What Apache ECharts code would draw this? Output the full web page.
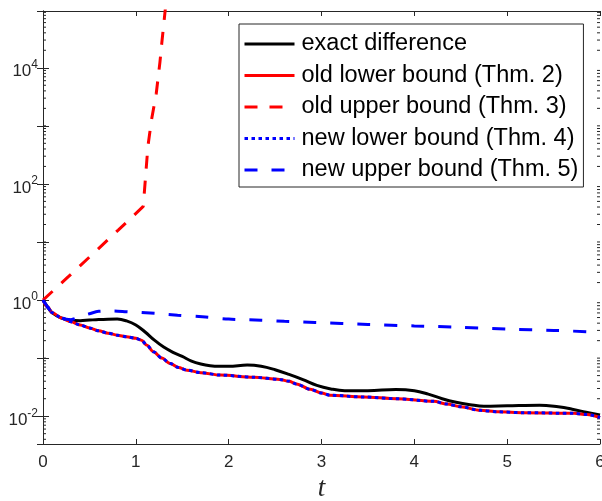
<!DOCTYPE html>
<html><head><meta charset="utf-8">
<script src="https://cdn.jsdelivr.net/npm/echarts@6/dist/echarts.min.js"></script>
<style>html,body{margin:0;padding:0;background:#fff}#c{width:602px;height:501px}</style>
</head><body><div id="c"></div>
<script>
// ---- data ----
const names = ['exact difference','old lower bound (Thm. 2)','old upper bound (Thm. 3)','new lower bound (Thm. 4)','new upper bound (Thm. 5)'];

const tExact = [0,0.05,0.1,0.2,0.3,0.4,0.5,0.6,0.7,0.8,0.9,1.0,1.1,1.2,1.3,1.4,1.5,1.6,1.7,1.8,1.9,2.0,2.2,2.35,2.5,2.65,2.8,2.95,3.1,3.25,3.5,3.8,4.0,4.15,4.3,4.45,4.6,4.75,5.0,5.35,5.55,5.7,5.85,6.0];
const vExact = [1,0.759,0.603,0.490,0.447,0.442,0.452,0.462,0.468,0.470,0.437,0.372,0.282,0.204,0.155,0.126,0.107,0.089,0.0794,0.0741,0.0724,0.0724,0.0759,0.0724,0.0631,0.0525,0.0427,0.0339,0.0295,0.0275,0.0275,0.0288,0.0275,0.024,0.020,0.0174,0.0158,0.0148,0.0151,0.0155,0.0145,0.0132,0.0117,0.0105];

const tLower = [0,0.05,0.1,0.2,0.3,0.4,0.5,0.6,0.7,0.8,0.9,1.0,1.06,1.12,1.19,1.28,1.37,1.46,1.55,1.7,1.91,2.27,2.55,2.65,2.73,2.88,3.0,3.09,3.45,3.81,4.21,4.35,4.5,4.71,4.9,5.18,5.72,5.86,6.0];
const vLower = [1,0.759,0.603,0.490,0.422,0.372,0.331,0.295,0.269,0.248,0.234,0.219,0.204,0.166,0.129,0.1,0.081,0.069,0.062,0.0562,0.051,0.047,0.043,0.040,0.036,0.029,0.025,0.023,0.0214,0.020,0.018,0.0162,0.0145,0.0126,0.0119,0.0115,0.0112,0.0107,0.0095];

const tOldUpper = [0,0.27,0.54,0.81,1.08,1.13,1.17,1.22,1.26,1.28,1.32,1.34];
const vOldUpper = [1,2.5,6.3,16,41,440,1300,3600,12600,27000,112000,250000];

const tNewUpper = [0,0.05,0.1,0.2,0.3,0.4,0.5,0.6,0.75,0.9,1.2,1.45,1.75,2.0,2.35,2.6,2.93,3.5,4.0,4.5,5.0,5.5,5.9,6.0];
const vNewUpper = [1,0.759,0.603,0.490,0.46,0.52,0.58,0.64,0.65,0.63,0.59,0.55,0.51,0.47,0.45,0.43,0.41,0.38,0.358,0.34,0.316,0.30,0.284,0.28];

const xTicks = [0,1,2,3,4,5,6];
const yMajorExponents = [-2,0,2,4];
const minorMultipliers = [1,2,3,4,5,6,7,8,9];
const minorDecades = [-3,-2,-1,0,1,2,3,4];

const yMin = 0.00332, yMax = 95000;

const zip = (a,b) => a.map((v,i) => [v,b[i]]);
const minorVals = [];
minorDecades.forEach(d => minorMultipliers.forEach(m => {
  const v = m * Math.pow(10, d);
  const isMajor = (m === 1 && yMajorExponents.indexOf(d) >= 0);
  if (!isMajor && v > yMin && v < yMax) minorVals.push([0, v]);
}));

const FONT = 'Liberation Sans';
const AX = '#262626';

const chart = echarts.init(document.getElementById('c'), null, {renderer:'canvas'});
const xBase = {
  type:'value', min:0, max:6, interval:1,
  axisLine:{show:true, lineStyle:{color:AX, width:1}},
  axisTick:{show:true, inside:true, length:5, lineStyle:{color:AX}},
  splitLine:{show:false}
};
const yBase = {
  type:'log', logBase:10, min:yMin, max:yMax, splitNumber:4,
  axisLine:{show:true, lineStyle:{color:AX, width:1}},
  axisTick:{show:true, inside:true, length:6, lineStyle:{color:AX}},
  splitLine:{show:false}
};
const isMajorTick = v => {
  const e = Math.log10(v);
  return Math.abs(e - Math.round(e)) < 1e-6 && yMajorExponents.indexOf(Math.round(e)) >= 0;
};
chart.setOption({
  animation:false,
  backgroundColor:'#fff',
  grid:{left:43, right:2, top:11, bottom:57, containLabel:false, outerBoundsMode:'none'},
  xAxis:[
    Object.assign({}, xBase, {position:'bottom',
      axisLabel:{show:true, margin:10, fontSize:17, color:AX, fontFamily:FONT,
        formatter: v => xTicks.indexOf(v) >= 0 ? String(v) : ''},
      name:'t', nameLocation:'middle', nameGap:25,
      nameTextStyle:{fontFamily:'Liberation Serif', fontStyle:'italic', fontSize:27, color:AX}}),
    Object.assign({}, xBase, {position:'top', axisLabel:{show:false}})
  ],
  yAxis:[
    Object.assign({}, yBase, {position:'left',
      axisLabel:{show:true, margin:5, showMinLabel:false, showMaxLabel:false, color:AX,
        formatter: v => { if (!isMajorTick(v)) return ''; const e = Math.round(Math.log10(v)); return '{b|10}{s|' + e + '}'; },
        rich:{ b:{fontSize:17, fontFamily:FONT, color:AX, padding:[8,0,0,0]},
               s:{fontSize:12, fontFamily:FONT, color:AX, padding:[0,0,6,0]} }}}),
    Object.assign({}, yBase, {position:'right', axisLabel:{show:false}})
  ],
  legend:{
    data:names, orient:'vertical', left:239, top:24,
    padding:[8,5,5,4], itemWidth:50, itemHeight:24, itemGap:7.5,
    backgroundColor:'#fff', borderColor:AX, borderWidth:1, borderRadius:0,
    itemStyle:{color:'rgba(0,0,0,0)', borderColor:'rgba(0,0,0,0)', borderWidth:0},
    lineStyle:{width:3},
    textStyle:{fontFamily:FONT, fontSize:23.5, color:'#000', lineHeight:24, padding:[0,0,0,2]},
    selectedMode:false
  },
  series:[
    {name:names[0], type:'line', data:zip(tExact,vExact), showSymbol:false, symbol:'none',
     smooth:0.4, lineStyle:{color:'#000', width:3}, itemStyle:{color:'#000'}, z:3},
    {name:names[1], type:'line', data:zip(tLower,vLower), showSymbol:false, symbol:'none',
     smooth:0.3, smoothMonotone:'x', lineStyle:{color:'#ff0000', width:3}, itemStyle:{color:'#ff0000'}, z:4},
    {name:names[2], type:'line', data:zip(tOldUpper,vOldUpper), showSymbol:false, symbol:'none',
     lineStyle:{color:'#ff0000', width:3, type:[13,12]}, itemStyle:{color:'#ff0000'}, z:4},
    {name:names[3], type:'line', data:zip(tLower,vLower), showSymbol:false, symbol:'none',
     smooth:0.3, smoothMonotone:'x', lineStyle:{color:'#0000ff', width:3, type:[3.5,3.5]}, itemStyle:{color:'#0000ff'}, z:5},
    {name:names[4], type:'line', data:zip(tNewUpper,vNewUpper), showSymbol:false, symbol:'none',
     smooth:0.3, lineStyle:{color:'#0000ff', width:3, type:[13,14]}, itemStyle:{color:'#0000ff'}, z:5},
    {type:'custom', data:minorVals, silent:true, z:2, clip:false,
     renderItem:(params, api) => {
       const cs = params.coordSys;
       const p = api.coord([0, api.value(1)]);
       const y = p[1];
       return {type:'group', children:[
         {type:'line', shape:{x1:cs.x, y1:y, x2:cs.x+3, y2:y}, style:{stroke:AX, lineWidth:1}},
         {type:'line', shape:{x1:cs.x+cs.width-3, y1:y, x2:cs.x+cs.width, y2:y}, style:{stroke:AX, lineWidth:1}}
       ]};
     }}
  ]
});
</script>
</body></html>
